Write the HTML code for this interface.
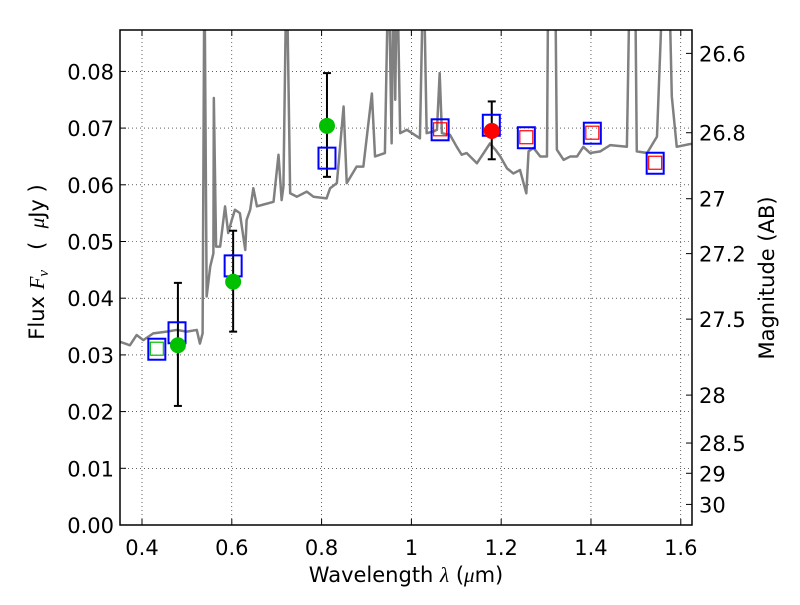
<!DOCTYPE html>
<html><head><meta charset="utf-8"><style>
body{margin:0;background:#fff;}
svg text{font-family:"DejaVu Sans","Liberation Sans",sans-serif;font-size:21px;fill:#000;}
</style></head><body>
<svg id="chart" width="800" height="600" xmlns="http://www.w3.org/2000/svg"></svg>
<script>
const xTicks=[0.4,0.6,0.8,1.0,1.2,1.4,1.6];
const xTickLabels=["0.4","0.6","0.8","1","1.2","1.4","1.6"];
const yTicks=[0,0.01,0.02,0.03,0.04,0.05,0.06,0.07,0.08];
const yTickLabels=["0.00","0.01","0.02","0.03","0.04","0.05","0.06","0.07","0.08"];
const magTicks=[26.6,26.8,27,27.2,27.5,28,28.5,29,30];
const magTickLabels=["26.6","26.8","27","27.2","27.5","28","28.5","29","30"];
const specWave=[0.351,0.373,0.388,0.403,0.425,0.455,0.477,0.500,0.522,0.529,0.535,0.539,0.544,0.552,0.559,0.560,0.565,0.574,0.585,0.592,0.600,0.607,0.618,0.630,0.633,0.641,0.648,0.656,0.670,0.693,0.704,0.711,0.715,0.722,0.730,0.745,0.767,0.782,0.811,0.819,0.834,0.849,0.856,0.878,0.893,0.912,0.919,0.941,0.949,0.956,0.960,0.964,0.968,0.975,0.990,1.019,1.027,1.034,1.049,1.057,1.063,1.068,1.086,1.101,1.112,1.123,1.146,1.161,1.175,1.187,1.198,1.213,1.227,1.242,1.256,1.261,1.272,1.287,1.302,1.305,1.320,1.324,1.339,1.354,1.369,1.383,1.398,1.421,1.443,1.480,1.487,1.498,1.502,1.525,1.547,1.562,1.573,1.580,1.591,1.621,1.629];
const specFlux=[0.0323,0.0317,0.0335,0.0326,0.0338,0.0341,0.0344,0.0341,0.0344,0.0320,0.0338,0.1,0.0403,0.0456,0.0479,0.0753,0.0491,0.0491,0.0562,0.0515,0.0538,0.0556,0.0550,0.0485,0.0538,0.0556,0.0594,0.0562,0.0565,0.0570,0.0653,0.0573,0.0597,0.1,0.0585,0.0579,0.0588,0.0579,0.0576,0.0594,0.0603,0.0738,0.0603,0.0632,0.0632,0.0761,0.0650,0.0656,0.1,0.0673,0.1,0.075,0.1,0.0691,0.0697,0.0682,0.1,0.0691,0.0694,0.0697,0.0797,0.0691,0.0688,0.0667,0.0653,0.0656,0.0638,0.0656,0.0673,0.0662,0.0650,0.0629,0.0620,0.0626,0.0585,0.0659,0.0665,0.0650,0.0650,0.1,0.1,0.0662,0.0644,0.0650,0.0650,0.0667,0.0656,0.0659,0.0670,0.0667,0.1,0.1,0.0659,0.0656,0.0685,0.1,0.1,0.0756,0.0667,0.0672,0.0672];
const modelWave=[0.433,0.478,0.603,0.812,1.064,1.178,1.256,1.403,1.543];
const modelFlux=[0.0310,0.0339,0.0457,0.0647,0.0697,0.0705,0.0683,0.0691,0.0638];
const innerColor=["#00c000",null,null,null,"red",null,"red","red","red"];
const obsWave=[0.480,0.603,0.812,1.179];
const obsFlux=[0.0317,0.0429,0.0704,0.0695];
const obsLo=[0.0210,0.0341,0.0614,0.0645];
const obsHi=[0.0427,0.0519,0.0797,0.0747];
const obsColor=["#00c000","#00c000","#00c000","red"];

const svg=document.getElementById('chart');
const NS='http://www.w3.org/2000/svg';
const L=120,R=692,T=30,B=525,xmin=0.351,xmax=1.625,ymin=0,ymax=0.0873;
const sx=v=>L+(v-xmin)/(xmax-xmin)*(R-L);
const sy=v=>B-(v-ymin)/(ymax-ymin)*(B-T);
const magToFlux=m=>Math.pow(10,(23.9-m)/2.5);
function mk(tag,at,parent){const e=document.createElementNS(NS,tag);for(const k in at)e.setAttribute(k,at[k]);(parent||svg).appendChild(e);return e;}
const defs=mk('defs',{});const cp=mk('clipPath',{id:'clip'},defs);mk('rect',{x:L,y:T,width:R-L,height:B-T},cp);

xTicks.forEach((t,i)=>{
 const g=mk('line',{x1:sx(t),x2:sx(t),y1:T,y2:B,stroke:'#000','stroke-width':0.6,'stroke-dasharray':'1,3'});
 
 
 mk('line',{x1:sx(t),x2:sx(t),y1:B,y2:B-6,stroke:'#000'});
 mk('line',{x1:sx(t),x2:sx(t),y1:T,y2:T+6,stroke:'#000'});
 const tx=mk('text',{x:sx(t),y:B+30,'text-anchor':'middle'});tx.textContent=xTickLabels[i];
 
 
});
yTicks.forEach((t,i)=>{
 const g=mk('line',{x1:L,x2:R,y1:sy(t),y2:sy(t),stroke:'#000','stroke-width':0.6,'stroke-dasharray':'1,3'});
 
 
 mk('line',{x1:L,x2:L+6,y1:sy(t),y2:sy(t),stroke:'#000'});
 const tx=mk('text',{x:L-6,y:sy(t)+8,'text-anchor':'end'});tx.textContent=yTickLabels[i];
 
 
});
magTicks.forEach((m,i)=>{
 const y=sy(magToFlux(m));
 mk('line',{x1:R,x2:R-6,y1:y,y2:y,stroke:'#000'});
 const tx=mk('text',{x:R+7,y:y+8,'text-anchor':'start'});tx.textContent=magTickLabels[i];
 
 
});
const pl=mk('polyline',{points:specWave.map((w,i)=>sx(w)+','+sy(specFlux[i])).join(' '),fill:'none',stroke:'#808080','stroke-width':2.5,'clip-path':'url(#clip)','stroke-linejoin':'round'});


obsWave.forEach((w,i)=>{
 const x=sx(w);
 const e=mk('g',{stroke:'#000','stroke-width':2});
 
 
 mk('line',{x1:x,x2:x,y1:sy(obsLo[i]),y2:sy(obsHi[i])},e);
 mk('line',{x1:x-4,x2:x+4,y1:sy(obsLo[i]),y2:sy(obsLo[i])},e);
 mk('line',{x1:x-4,x2:x+4,y1:sy(obsHi[i]),y2:sy(obsHi[i])},e);
});
modelWave.forEach((w,i)=>{
 const x=sx(w),y=sy(modelFlux[i]);
 const r=mk('rect',{x:x-8.5,y:y-10.5,width:17,height:21,fill:'none',stroke:'#0000ff','stroke-width':2});
 
 
 if(innerColor[i]){
  const r2=mk('rect',{x:x-6.5,y:y-7,width:13,height:13,fill:'none',stroke:innerColor[i],'stroke-width':1.2});
  
  
 }
});
obsWave.forEach((w,i)=>{
 const c=mk('circle',{cx:sx(w),cy:sy(obsFlux[i]),r:8,fill:obsColor[i]});
 
 
});
const fr=mk('rect',{x:L,y:T,width:R-L,height:B-T,fill:'none',stroke:'#000','stroke-width':1.5});


const xl=mk('text',{x:406,y:582,'text-anchor':'middle'});xl.innerHTML='Wavelength  <tspan font-family="Liberation Serif" font-style="italic">λ</tspan> (<tspan font-family="Liberation Serif" font-style="italic">μ</tspan>m)';


const yl=mk('text',{x:0,y:0,'text-anchor':'middle',transform:'translate(44,262) rotate(-90)'});yl.innerHTML='Flux  <tspan font-family="Liberation Serif" font-style="italic">F<tspan font-size="15" dy="4">ν</tspan></tspan><tspan dy="-4" xml:space="preserve">   (  </tspan><tspan font-family="Liberation Serif" font-style="italic">μ</tspan>Jy )';


const rl=mk('text',{x:0,y:0,'text-anchor':'middle',transform:'translate(774,278) rotate(-90)'});rl.textContent='Magnitude (AB)';


</script>
</body></html>
